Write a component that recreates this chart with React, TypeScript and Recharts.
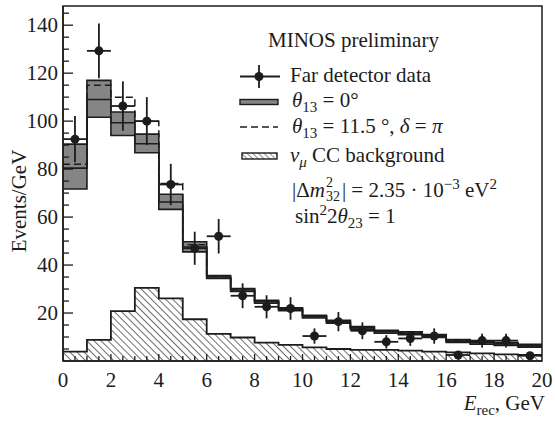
import React from "react";
import {
  ComposedChart,
  Area,
  Line,
  Scatter,
  ErrorBar,
  XAxis,
  YAxis,
  ReferenceArea,
} from "recharts";

// bin edges 0..20 GeV (last value repeated so the step closes at 20)
const binEdges = [0, 1, 2, 3, 4, 5, 6, 7, 8, 9, 10, 11, 12, 13, 14, 15, 16, 17, 18, 19, 20];

// theta13 = 0 prediction: central value and systematic band
const theta0 = [80.4, 109, 99.3, 90.6, 66.3, 47.5, 35, 29.6, 24.7, 21.6, 18.5, 16.4, 13.8, 12.2, 11.6, 10.4, 8.3, 7.6, 7.1, 6.4, 6.4];
const theta0Lo = [71.7, 101.6, 94, 86.8, 63.2, 45.5, 34.4, 29, 24.1, 21, 17.9, 15.8, 13.2, 11.6, 11, 9.8, 7.7, 7, 6.5, 5.8, 5.8];
const theta0Hi = [90.4, 117, 103.8, 94.6, 69.5, 49.7, 35.6, 30.2, 25.3, 22.2, 19.1, 17, 14.4, 12.8, 12.2, 11, 8.9, 8.2, 7.7, 7, 7];

// theta13 = 11.5 deg, delta = pi
const theta115 = [82, 115, 110, 100, 74, 48.5, 35.4, 30, 25, 22, 18.9, 16.8, 14.2, 12.5, 11.9, 10.7, 8.6, 7.9, 7.3, 6.5, 6.5];

// nu_mu CC background
const background = [3.9, 8.8, 20.8, 30.5, 26.1, 17.4, 11.3, 9.8, 7.7, 6.7, 5.7, 5.0, 4.6, 4.6, 4.3, 3.9, 3.6, 3.2, 2.8, 2.5, 2.5];

// far detector data
const dataE = [0.5, 1.5, 2.5, 3.5, 4.5, 5.5, 6.5, 7.5, 8.5, 9.5, 10.5, 11.5, 12.5, 13.5, 14.5, 15.5, 16.5, 17.5, 18.5, 19.5];
const dataY = [92.5, 129.3, 106.3, 100, 73.6, 47, 52, 27.2, 22.6, 21.9, 10.4, 16.4, 12.6, 8.0, 9.4, 10.4, 2.5, 8.5, 8.5, 2.2];
const dataErr = [9.6, 11.4, 10.3, 10, 8.6, 6.9, 7.2, 5.2, 4.8, 4.7, 3.2, 4.0, 3.5, 2.8, 3.1, 3.2, 1.6, 2.9, 2.9, 1.5];

// ticks: every 0.5 GeV on x (labels every 2), every 5 on y (labels every 20)
const xTicks = [0, 0.5, 1, 1.5, 2, 2.5, 3, 3.5, 4, 4.5, 5, 5.5, 6, 6.5, 7, 7.5, 8, 8.5, 9, 9.5, 10, 10.5, 11, 11.5, 12, 12.5, 13, 13.5, 14, 14.5, 15, 15.5, 16, 16.5, 17, 17.5, 18, 18.5, 19, 19.5, 20];
const xLabels = [0, 2, 4, 6, 8, 10, 12, 14, 16, 18, 20];
const yTicks = [5, 10, 15, 20, 25, 30, 35, 40, 45, 50, 55, 60, 65, 70, 75, 80, 85, 90, 95, 100, 105, 110, 115, 120, 125, 130, 135, 140, 145];
const yLabels = [20, 40, 60, 80, 100, 120, 140];

const hist = binEdges.map((x, i) => ({
  x,
  theta0: theta0[i],
  band: [theta0Lo[i], theta0Hi[i]],
  theta115: theta115[i],
  bg: background[i],
}));

const points = dataE.map((x, i) => ({ x, y: dataY[i], ey: dataErr[i], ex: 0.5 }));

const INK = "#1c1c1c";
const GRAY = "#858585";
const FONT = '"Times New Roman", "Liberation Serif", Times, serif';

const XTick = (p: any) => {
  const v = p.payload.value;
  const major = xLabels.includes(v);
  if (v === 0 || v === 20) {
    return (
      <text x={p.x} y={p.y + 26} textAnchor="middle" fontSize={21} fontFamily={FONT} fill={INK}>
        {v}
      </text>
    );
  }
  return (
    <g>
      <line x1={p.x} x2={p.x} y1={p.y} y2={p.y - (major ? 7 : 5)} stroke={INK} strokeWidth={1.3} />
      {major && (
        <text x={p.x} y={p.y + 26} textAnchor="middle" fontSize={21} fontFamily={FONT} fill={INK}>
          {v}
        </text>
      )}
    </g>
  );
};

const YTick = (p: any) => {
  const v = p.payload.value;
  const major = yLabels.includes(v);
  return (
    <g>
      <line x1={p.x} x2={p.x + (major ? 10 : 6)} y1={p.y} y2={p.y} stroke={INK} strokeWidth={1.3} />
      {major && (
        <text x={p.x - 5} y={p.y + 7} textAnchor="end" fontSize={21} fontFamily={FONT} fill={INK}>
          {v}
        </text>
      )}
    </g>
  );
};

const Dot = (p: any) => <circle cx={p.cx} cy={p.cy} r={4.5} fill={INK} />;

const Sub = ({ children }: { children: React.ReactNode }) => (
  <span style={{ fontSize: 15, position: "relative", top: 5 }}>{children}</span>
);
const Sup = ({ children }: { children: React.ReactNode }) => (
  <span style={{ fontSize: 15, position: "relative", top: -8 }}>{children}</span>
);

const row = (top: number, left: number): React.CSSProperties => ({
  position: "absolute",
  top,
  left,
  fontSize: 21,
  lineHeight: "24px",
  fontFamily: FONT,
  whiteSpace: "nowrap",
  color: INK,
});

export default function App() {
  return (
    <div style={{ position: "absolute", left: 0, top: 0, width: 555, height: 423, background: "#fff", fontFamily: FONT }}>
      <ComposedChart width={555} height={423} data={hist} margin={{ top: 6, right: 13, bottom: 0, left: 0 }}>
        <defs>
          <pattern id="hatch" width={5} height={5} patternUnits="userSpaceOnUse" patternTransform="rotate(-45)">
            <line x1={0} y1={0} x2={0} y2={5} stroke={INK} strokeWidth={1.3} />
          </pattern>
        </defs>
        <XAxis dataKey="x" type="number" domain={[0, 20]} ticks={xTicks} interval={0} tickSize={0} tickMargin={0} tick={XTick} height={62} axisLine={{ stroke: INK, strokeWidth: 1.5 }} tickLine={false} allowDataOverflow />
        <YAxis type="number" domain={[0, 148]} ticks={yTicks} interval={0} tickSize={0} tickMargin={0} tick={YTick} width={63} axisLine={{ stroke: INK, strokeWidth: 1.5 }} tickLine={false} allowDataOverflow />

        <Area type="stepAfter" dataKey="bg" fill="url(#hatch)" fillOpacity={1} stroke={INK} strokeWidth={1.8} isAnimationActive={false} dot={false} activeDot={false} />
        <Area type="stepAfter" dataKey="band" fill={GRAY} fillOpacity={1} stroke={INK} strokeWidth={1.6} isAnimationActive={false} dot={false} activeDot={false} />
        <Line type="stepAfter" dataKey="theta0" stroke={INK} strokeWidth={1.6} dot={false} activeDot={false} isAnimationActive={false} />
        <Line type="stepAfter" dataKey="theta115" stroke={INK} strokeWidth={1.5} strokeDasharray="7 4" dot={false} activeDot={false} isAnimationActive={false} />
        <Scatter data={points} dataKey="y" shape={Dot} isAnimationActive={false}>
          <ErrorBar dataKey="ey" direction="y" width={0} stroke={INK} strokeWidth={1.8} isAnimationActive={false} />
          <ErrorBar dataKey="ex" direction="x" width={0} stroke={INK} strokeWidth={1.8} isAnimationActive={false} />
        </Scatter>
        <ReferenceArea x1={0} x2={20} y1={0} y2={148} fill="none" stroke={INK} strokeWidth={1.5} ifOverflow="visible" />
      </ComposedChart>

      {/* axis titles */}
      <div style={{ position: "absolute", left: 19, top: 201, transform: "translate(-50%, -50%) rotate(-90deg)", fontSize: 21, fontFamily: FONT, whiteSpace: "nowrap", color: INK }}>
        Events/GeV
      </div>
      <div style={{ position: "absolute", right: 10, top: 391, fontSize: 21, fontFamily: FONT, whiteSpace: "nowrap", color: INK }}>
        <i>E</i>
        <Sub>rec</Sub>, GeV
      </div>

      {/* legend */}
      <div style={row(28, 268)}>MINOS preliminary</div>
      <svg style={{ position: "absolute", left: 238, top: 60 }} width={44} height={140}>
        <defs>
          <pattern id="hatchL" width={4} height={4} patternUnits="userSpaceOnUse" patternTransform="rotate(-45)">
            <line x1={0} y1={0} x2={0} y2={4} stroke={INK} strokeWidth={1} />
          </pattern>
        </defs>
        <line x1={2} x2={42} y1={16.5} y2={16.5} stroke={INK} strokeWidth={1.8} />
        <line x1={21} x2={21} y1={5} y2={28} stroke={INK} strokeWidth={1.8} />
        <circle cx={21} cy={16.5} r={4.5} fill={INK} />
        <rect x={2} y={39.5} width={38} height={5} fill={GRAY} stroke={INK} strokeWidth={1.4} />
        <line x1={2} x2={40} y1={67} y2={67} stroke={INK} strokeWidth={1.5} strokeDasharray="7 4" />
        <rect x={4} y={93} width={35} height={6} fill="url(#hatchL)" stroke={INK} strokeWidth={1.4} />
      </svg>
      <div style={row(62.5, 290)}>Far detector data</div>
      <div style={row(88, 292)}>
        <i>θ</i>
        <Sub>13</Sub> = 0°
      </div>
      <div style={row(114, 292)}>
        <i>θ</i>
        <Sub>13</Sub> = 11.5 °, <i>δ</i> = <i>π</i>
      </div>
      <div style={row(142.5, 290)}>
        <i>ν</i>
        <Sub>
          <i>μ</i>
        </Sub>{" "}
        CC background
      </div>
      <div style={row(172.5, 292)}>
        |Δ<i>m</i>
        <span style={{ display: "inline-block", position: "relative", width: 17, height: 24 }}>
          <span style={{ position: "absolute", top: 3, left: 1, fontSize: 14, lineHeight: "13px" }}>2</span>
          <span style={{ position: "absolute", top: 17, left: 1, fontSize: 14, lineHeight: "13px" }}>32</span>
        </span>
        | = 2.35 · 10<Sup>−3</Sup> eV<Sup>2</Sup>
      </div>
      <div style={row(204, 295)}>
        sin<Sup>2</Sup>2<i>θ</i>
        <Sub>23</Sub> = 1
      </div>
    </div>
  );
}
